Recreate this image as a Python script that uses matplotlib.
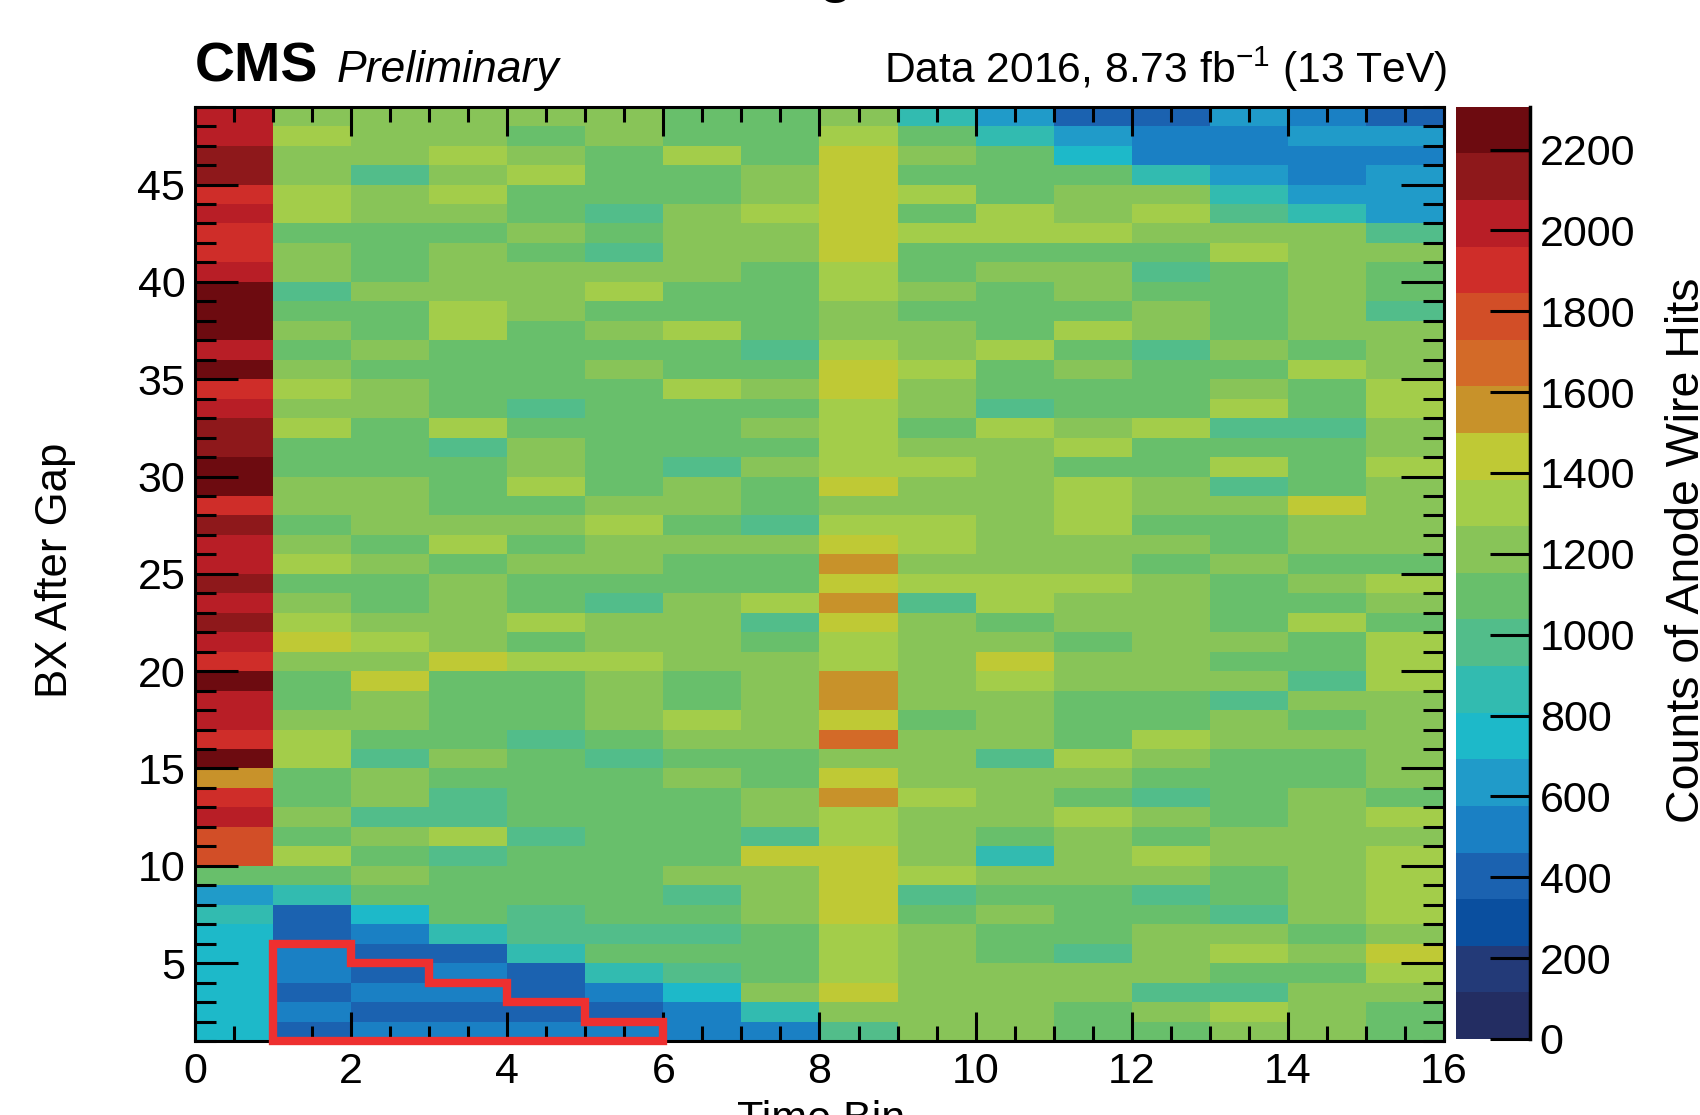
import numpy as np
import matplotlib
matplotlib.use('Agg')
import matplotlib.pyplot as plt
from matplotlib.colors import ListedColormap, BoundaryNorm
from matplotlib.ticker import MultipleLocator
from matplotlib.lines import Line2D

plt.rcParams['font.family'] = ['Liberation Sans', 'DejaVu Sans']
plt.rcParams['mathtext.fontset'] = 'custom'
plt.rcParams['mathtext.rm'] = 'Liberation Sans'

# anode wire hit counts, rows listed from BX 48 (top) down to BX 1 (bottom), 16 time bins each
counts = [
    [2020, 1210, 1210, 1210, 1210, 1210, 1095, 1095, 1210, 865, 635, 405, 405, 635, 520, 405],
    [2020, 1325, 1210, 1210, 1095, 1210, 1095, 1095, 1325, 1095, 865, 635, 520, 520, 635, 635],
    [2135, 1210, 1210, 1325, 1210, 1095, 1325, 1095, 1440, 1210, 1095, 750, 520, 520, 520, 520],
    [2135, 1210, 980, 1210, 1325, 1095, 1095, 1210, 1440, 1095, 1095, 1095, 865, 635, 520, 635],
    [1900, 1325, 1210, 1325, 1095, 1095, 1095, 1210, 1440, 1325, 1095, 1210, 1210, 865, 635, 635],
    [2020, 1325, 1210, 1210, 1095, 980, 1210, 1325, 1440, 1095, 1325, 1210, 1325, 980, 865, 635],
    [1900, 1095, 1095, 1095, 1210, 1095, 1210, 1210, 1440, 1325, 1325, 1325, 1210, 1210, 1210, 980],
    [1900, 1210, 1095, 1210, 1095, 980, 1210, 1210, 1440, 1095, 1095, 1095, 1095, 1325, 1210, 1210],
    [2020, 1210, 1095, 1210, 1210, 1210, 1210, 1095, 1325, 1095, 1210, 1210, 980, 1095, 1210, 1095],
    [2250, 980, 1210, 1210, 1210, 1325, 1095, 1095, 1325, 1210, 1095, 1210, 1095, 1095, 1210, 1095],
    [2250, 1095, 1095, 1325, 1210, 1095, 1095, 1095, 1210, 1095, 1095, 1095, 1210, 1095, 1210, 980],
    [2250, 1210, 1095, 1325, 1095, 1210, 1325, 1095, 1210, 1210, 1095, 1325, 1210, 1095, 1210, 1210],
    [2020, 1095, 1210, 1095, 1095, 1095, 1095, 980, 1325, 1210, 1325, 1095, 980, 1210, 1095, 1210],
    [2250, 1210, 1095, 1095, 1095, 1210, 1095, 1095, 1440, 1325, 1095, 1210, 1095, 1095, 1325, 1210],
    [1900, 1325, 1210, 1095, 1095, 1095, 1325, 1210, 1440, 1210, 1095, 1095, 1095, 1210, 1095, 1325],
    [2020, 1210, 1210, 1095, 980, 1095, 1095, 1095, 1325, 1210, 980, 1095, 1095, 1325, 1095, 1325],
    [2135, 1325, 1095, 1325, 1095, 1095, 1095, 1210, 1325, 1095, 1325, 1210, 1325, 980, 980, 1210],
    [2135, 1095, 1095, 980, 1210, 1095, 1095, 1095, 1325, 1210, 1210, 1325, 1095, 1095, 1095, 1210],
    [2250, 1095, 1095, 1095, 1210, 1095, 980, 1210, 1325, 1325, 1210, 1095, 1095, 1325, 1095, 1325],
    [2250, 1210, 1210, 1095, 1325, 1095, 1210, 1095, 1440, 1210, 1210, 1325, 1210, 980, 1095, 1210],
    [1900, 1210, 1210, 1095, 1095, 1210, 1210, 1095, 1210, 1210, 1210, 1325, 1210, 1210, 1440, 1210],
    [2135, 1095, 1210, 1210, 1210, 1325, 1095, 980, 1325, 1325, 1210, 1325, 1095, 1095, 1210, 1210],
    [2020, 1210, 1095, 1325, 1095, 1210, 1210, 1210, 1440, 1325, 1210, 1210, 1210, 1095, 1210, 1210],
    [2020, 1325, 1210, 1095, 1210, 1210, 1095, 1095, 1555, 1210, 1210, 1210, 1095, 1210, 1095, 1095],
    [2135, 1095, 1095, 1210, 1095, 1095, 1095, 1095, 1440, 1325, 1325, 1325, 1210, 1095, 1210, 1325],
    [2020, 1210, 1095, 1210, 1095, 980, 1210, 1325, 1555, 980, 1325, 1210, 1210, 1095, 1095, 1210],
    [2135, 1325, 1210, 1210, 1325, 1210, 1210, 980, 1440, 1210, 1095, 1210, 1210, 1095, 1325, 1095],
    [2020, 1440, 1325, 1210, 1095, 1210, 1210, 1095, 1325, 1210, 1210, 1095, 1210, 1210, 1095, 1325],
    [1900, 1210, 1210, 1440, 1325, 1325, 1210, 1210, 1325, 1210, 1440, 1210, 1210, 1095, 1095, 1325],
    [2250, 1095, 1440, 1095, 1095, 1210, 1095, 1210, 1555, 1210, 1325, 1210, 1210, 1210, 980, 1325],
    [2020, 1095, 1210, 1095, 1095, 1210, 1095, 1210, 1555, 1210, 1210, 1095, 1095, 980, 1210, 1210],
    [2020, 1210, 1210, 1095, 1095, 1210, 1325, 1210, 1440, 1095, 1210, 1095, 1095, 1210, 1095, 1210],
    [1900, 1325, 1095, 1095, 980, 1095, 1210, 1210, 1670, 1210, 1210, 1095, 1325, 1210, 1210, 1210],
    [2250, 1325, 980, 1210, 1095, 980, 1095, 1095, 1210, 1210, 980, 1325, 1210, 1095, 1095, 1210],
    [1555, 1095, 1210, 1095, 1095, 1095, 1210, 1095, 1440, 1210, 1210, 1210, 1095, 1095, 1095, 1210],
    [1900, 1095, 1210, 980, 1095, 1095, 1095, 1210, 1555, 1325, 1210, 1095, 980, 1095, 1210, 1095],
    [2020, 1210, 980, 980, 1095, 1095, 1095, 1210, 1325, 1210, 1210, 1325, 1210, 1095, 1210, 1325],
    [1790, 1095, 1210, 1325, 980, 1095, 1095, 980, 1325, 1210, 1095, 1210, 1095, 1210, 1210, 1210],
    [1790, 1325, 1095, 980, 1095, 1095, 1095, 1440, 1440, 1210, 865, 1210, 1325, 1210, 1210, 1325],
    [1095, 1095, 1210, 1095, 1095, 1095, 1210, 1210, 1440, 1325, 1210, 1210, 1210, 1095, 1210, 1325],
    [635, 865, 1095, 1095, 1095, 1095, 980, 1210, 1440, 980, 1095, 1095, 980, 1095, 1210, 1325],
    [865, 405, 750, 1095, 980, 1095, 1095, 1210, 1440, 1095, 1210, 1095, 1095, 980, 1210, 1325],
    [750, 405, 520, 865, 980, 980, 980, 1095, 1325, 1210, 1095, 1095, 1210, 1210, 1095, 1210],
    [750, 520, 405, 405, 865, 1095, 1095, 1095, 1325, 1210, 1095, 980, 1210, 1325, 1210, 1440],
    [750, 520, 405, 520, 405, 865, 980, 1095, 1325, 1210, 1210, 1210, 1210, 1095, 1095, 1325],
    [750, 405, 520, 520, 405, 520, 750, 1210, 1440, 1210, 1210, 1210, 980, 980, 1210, 1210],
    [750, 520, 405, 405, 405, 405, 520, 865, 1210, 1210, 1210, 1095, 1210, 1325, 1210, 1095],
    [750, 405, 520, 520, 520, 520, 520, 520, 980, 1210, 1210, 1095, 1095, 1210, 1210, 1095],
]
time_bins = np.arange(17)          # bin edges 0..16
bx_bins = np.arange(1, 50)         # bin edges 1..49
z_max = 2306

# highlighted region (red staircase): time bins 1..5 and their upper BX edge
box_cols = [1, 2, 3, 4, 5]
box_top = [6, 5, 4, 3, 2]

palette = ['#232d62', '#233a78', '#0a4f9f', '#1b62b0', '#1a80c4', '#209bc9', '#1db9c9',
           '#32bbb0', '#52bd8a', '#68bf6b', '#88c458', '#a3cd4a', '#bfc935', '#c8922a',
           '#d36a28', '#d24e27', '#cf2d29', '#b81e26', '#8e181b', '#6d0b10']
cmap = ListedColormap(palette)
norm = BoundaryNorm(np.linspace(0, z_max, len(palette) + 1), len(palette))

fig = plt.figure(figsize=(17, 11.15), dpi=100)
ax = fig.add_axes([0.1147, 0.0664, 0.7347, 0.8379])
cax = fig.add_axes([0.8565, 0.0682, 0.0435, 0.8361])

z = np.array(counts)[::-1]
mesh = ax.pcolormesh(time_bins, bx_bins, z, cmap=cmap, norm=norm)

ax.set_xlim(0, 16)
ax.set_ylim(1, 49)
ax.xaxis.set_major_locator(MultipleLocator(2))
ax.xaxis.set_minor_locator(MultipleLocator(0.5))
ax.yaxis.set_major_locator(MultipleLocator(5))
ax.yaxis.set_minor_locator(MultipleLocator(1))
ax.tick_params(which='both', direction='in', top=True, right=True, width=2.2, labelsize=31)
ax.tick_params(axis='x', which='major', length=21, pad=8)
ax.tick_params(axis='x', which='minor', length=11)
ax.tick_params(axis='y', which='major', length=31, pad=7)
ax.tick_params(axis='y', which='minor', length=15)
for s in ax.spines.values():
    s.set_linewidth(2.2)

# staircase outline
xs, ys = [box_cols[0]], [1]
for c, t in zip(box_cols, box_top):
    xs += [c, c + 1]
    ys += [t, t]
xs.append(box_cols[-1] + 1)
ys.append(1)
poly = plt.Polygon(list(zip(xs, ys)), closed=True, fill=False, edgecolor='#ee3030',
                   linewidth=6, joinstyle='miter', clip_on=False, zorder=5)
ax.add_patch(poly)

cbar = fig.colorbar(mesh, cax=cax, ticks=np.arange(0, 2201, 200), spacing='proportional')
cbar.outline.set_visible(False)
cax.minorticks_off()
cax.tick_params(direction='in', length=29, width=2.2, labelsize=31, pad=7)
cax.add_line(Line2D([1, 1], [0, 1], transform=cax.transAxes, color='black',
                    linewidth=2.5, clip_on=False))

# title sits above the canvas; only the tail of its "g" shows
fig.text(836 / 1700, 1 + 9 / 1115, 'g', fontsize=40, weight='bold', ha='center', va='baseline')
fig.text(195 / 1700, 1 - 82 / 1115, 'CMS', fontsize=40, weight='bold', va='baseline')
fig.text(337 / 1700, 1 - 82 / 1115, 'Preliminary', fontsize=32, style='italic', va='baseline')
fig.text(1447 / 1700, 1 - 83 / 1115, r'Data 2016, 8.73 fb$^{\mathregular{-1}}$ (13 TeV)',
         fontsize=30.7, ha='right', va='baseline')
fig.text(56 / 1700, 1 - 570 / 1115, 'BX After Gap', fontsize=31.5, rotation=90,
         ha='center', va='center')
fig.text(821 / 1700, 1 - 1100 / 1115, 'Time Bin', fontsize=31, ha='center', va='top')
fig.text(1665 / 1700, 1 - 550 / 1115, 'Counts of Anode Wire Hits', fontsize=33.5,
         rotation=90, ha='left', va='center')

fig.savefig('out.png', dpi=100)
